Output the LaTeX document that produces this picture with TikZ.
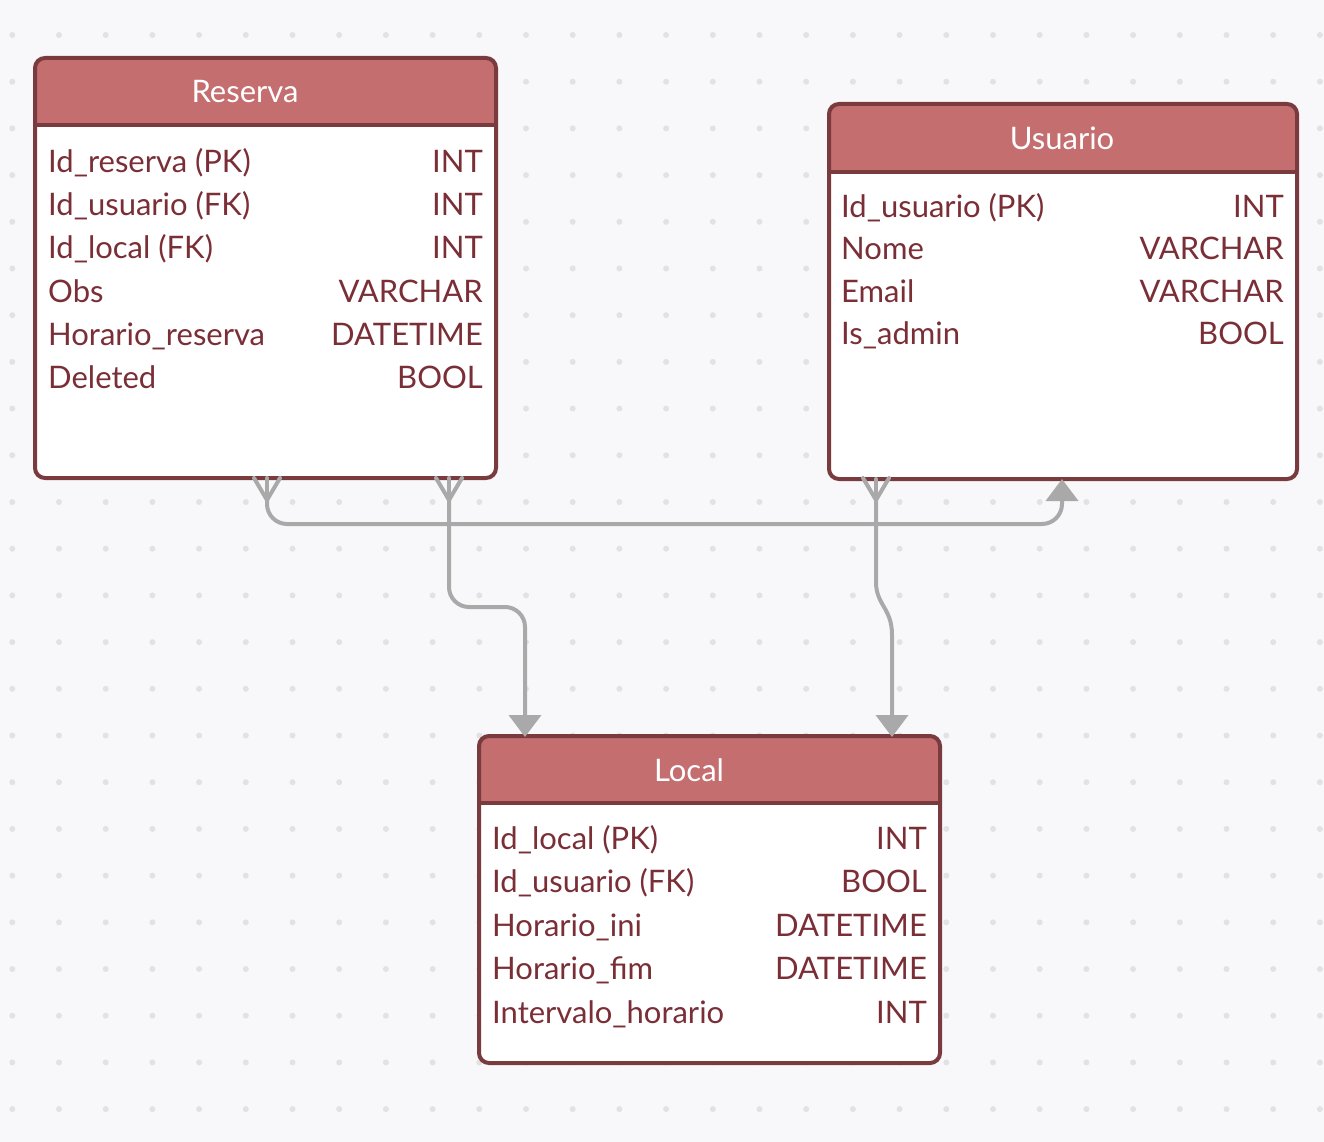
\documentclass[tikz,border=0pt]{standalone}
\usepackage{fontspec}
\setmainfont{Lato}
\usetikzlibrary{arrows.meta}
\definecolor{bgc}{HTML}{F8F8FA}
\definecolor{dotc}{HTML}{E2E2E6}
\definecolor{headc}{HTML}{C46E70}
\definecolor{bordc}{HTML}{7A3B3F}
\definecolor{txtc}{HTML}{7A2E36}
\definecolor{linkc}{HTML}{A9A9A9}
\tikzset{
  tbl/.style={draw=bordc, line width=4pt, rounded corners=10pt, inner sep=0pt, outer sep=0pt, anchor=north west},
  rowtxt/.style={text=txtc, font=\fontsize{31}{37}\selectfont, inner sep=0pt},
  headtxt/.style={text=white, font=\fontsize{31}{36}\selectfont, inner sep=0pt, anchor=base},
  link/.style={draw=linkc, line width=4pt, rounded corners=20pt},
  arr/.style={-{Triangle[width=32pt,length=22pt]}},
  foot/.style={draw=linkc, line width=4pt, line cap=round}
}
\newcommand{\tablebox}[6]{% name, x1, y1, x2, y2, header bottom
  \begin{scope}
    \clip[rounded corners=10pt] (#2,#3) rectangle (#4,#5);
    \fill[white] (#2,#3) rectangle (#4,#5);
    \fill[headc] (#2,#3) rectangle (#4,#6);
  \end{scope}
  \draw[bordc, line width=4pt] (#2,#6) -- (#4,#6);
  \node[tbl, minimum width=#4pt-#2pt, minimum height=#5pt-#3pt] (#1) at (#2,#3) {};
}
\begin{document}
\begin{tikzpicture}[x=1pt,y=-1pt]
\useasboundingbox (0,0) rectangle (1324,1142);
\fill[bgc] (0,0) rectangle (1324,1142);
\foreach \i in {0,...,28}{
  \foreach \j in {0,...,24}{
    \fill[dotc] ({12.3+46.7*\i},{35+46.7*\j}) circle (3);
  }
}
% tables
\tablebox{res}{35}{58}{496}{478}{125}
\tablebox{usu}{829}{104}{1297}{479}{172}
\tablebox{loc}{479}{736}{940}{1063}{803}

\node[headtxt] (resh) at (245,103) {Reserva};
\node[headtxt] (usuh) at (1062,150) {Usuario};
\node[headtxt] (loch) at (689,781) {Local};

% Reserva rows
\foreach \n/\t [count=\k from 0] in {Id\_reserva (PK)/INT, Id\_usuario (FK)/INT, Id\_local (FK)/INT, Obs/VARCHAR, Horario\_reserva/DATETIME, Deleted/BOOL}{
  \node[rowtxt, anchor=base west] (resn\k) at (48,{172.5+43.2*\k}) {\n};
  \node[rowtxt, anchor=base east] (rest\k) at (483,{172.5+43.2*\k}) {\t};
}
% Usuario rows
\foreach \n/\t [count=\k from 0] in {Id\_usuario (PK)/INT, Nome/VARCHAR, Email/VARCHAR, Is\_admin/BOOL}{
  \node[rowtxt, anchor=base west] (usun\k) at (841,{217.5+42.3*\k}) {\n};
  \node[rowtxt, anchor=base east] (usut\k) at (1284,{217.5+42.3*\k}) {\t};
}
% Local rows
\foreach \n/\t [count=\k from 0] in {Id\_local (PK)/INT, Id\_usuario (FK)/BOOL, Horario\_ini/DATETIME, Horario\_fim/DATETIME, Intervalo\_horario/INT}{
  \node[rowtxt, anchor=base west] (locn\k) at (492,{849.5+43.4*\k}) {\n};
  \node[rowtxt, anchor=base east] (loct\k) at (927,{849.5+43.4*\k}) {\t};
}

% connector anchor points
\coordinate (rA) at (267,478);
\coordinate (rAj) at (267,500);
\coordinate (rB) at (449,478);
\coordinate (rBj) at (449,500);
\coordinate (uA) at (876,479);
\coordinate (uAj) at (876,500);
\coordinate (uT) at (1062,479);
\coordinate (lA) at (525,737);
\coordinate (lB) at (892,737);

% crow's feet
\foreach \c/\x in {rA/267, rB/449, uA/876}{
  \draw[foot] (\x-13,478) -- (\c j) -- (\x+13,478);
  \draw[foot] (\c) -- (\c j);
}

% Reserva -> Usuario
\draw[link, arr] (rAj) -- (267,524) -- (1062,524) -- (uT);
% Reserva -> Local
\draw[link, arr] (rBj) -- (449,607) -- (525,607) -- (lA);
% Usuario -> Local
\draw[link, arr, sharp corners] (uAj) -- (876,582) .. controls (876,605) and (892,608) .. (892,635) -- (lB);
\end{tikzpicture}
\end{document}
